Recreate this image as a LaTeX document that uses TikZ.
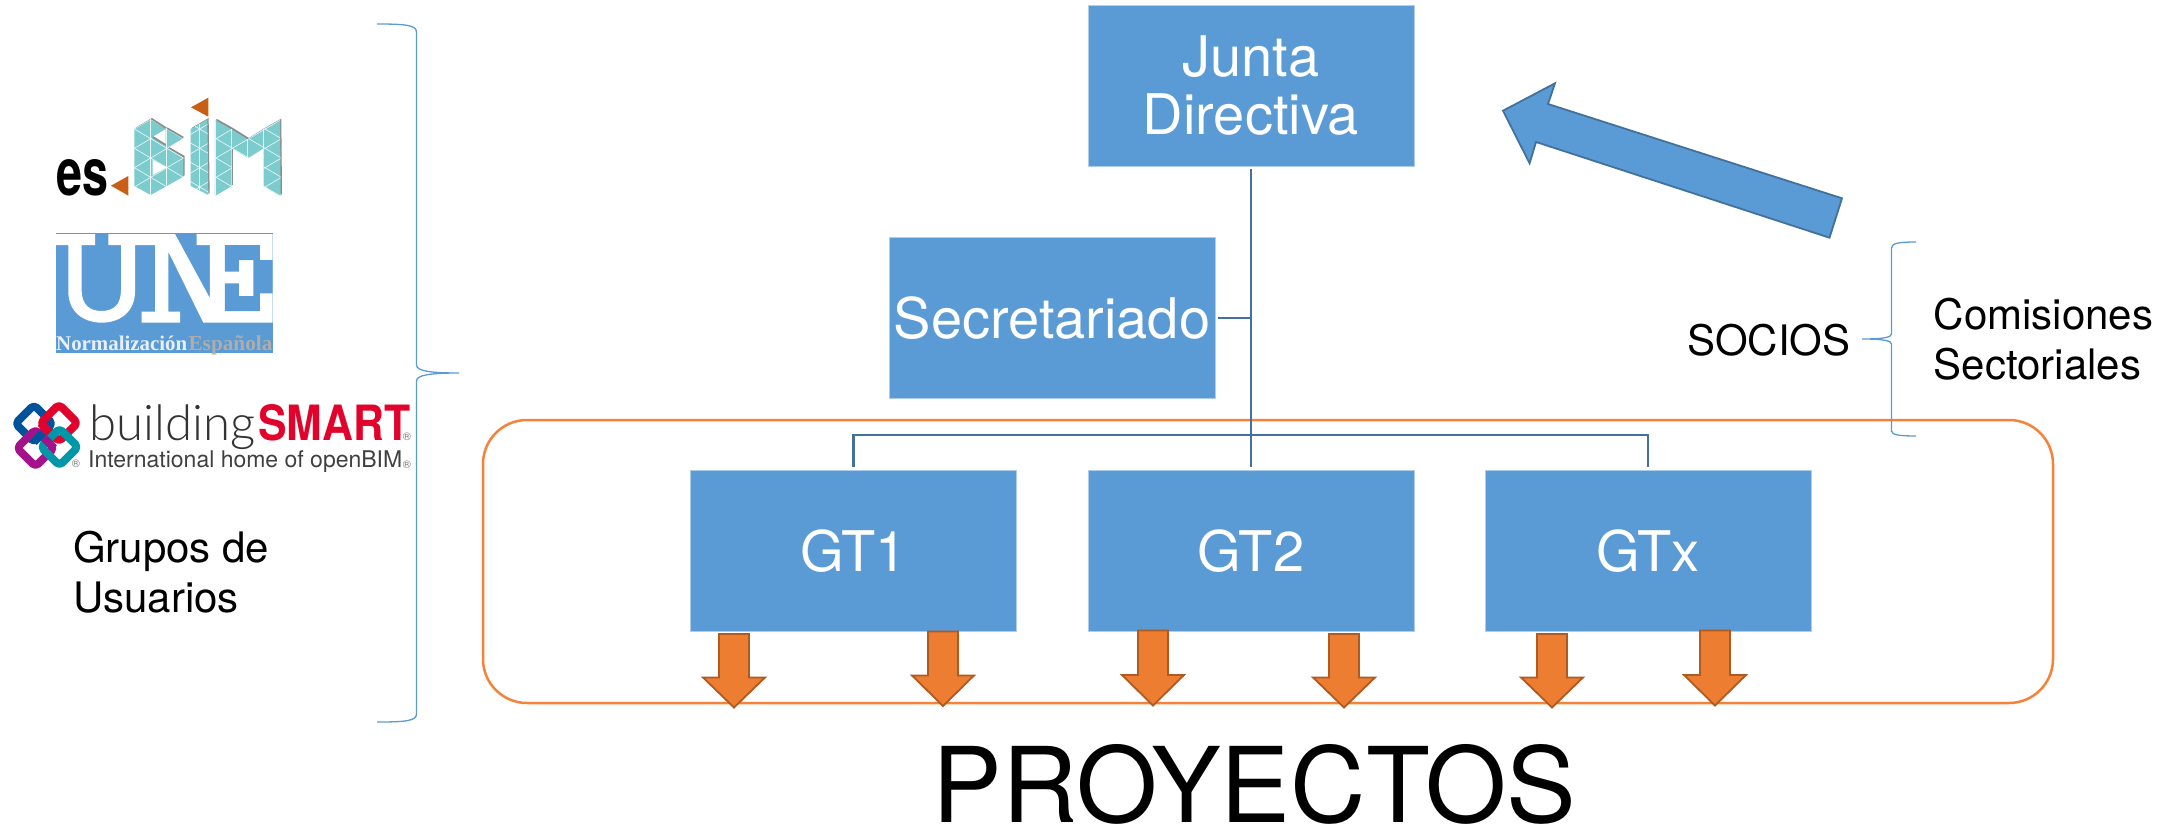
\documentclass[tikz,border=0pt]{standalone}
\usepackage{fontspec}
\setmainfont{TeX Gyre Heros}
\newfontfamily\lato{Lato Light}
\newfontfamily\libserif{Liberation Serif}
\definecolor{boxblue}{HTML}{5B9BD5}
\definecolor{connblue}{HTML}{41719C}
\definecolor{orangefill}{HTML}{ED7D31}
\definecolor{orangeedge}{HTML}{AE5A21}
\definecolor{orangeline}{HTML}{F4823A}
\definecolor{bimteal}{HTML}{7CCBCD}
\definecolor{bimorange}{HTML}{C85F14}
\definecolor{bsblue}{HTML}{00529B}
\definecolor{bsred}{HTML}{E2032C}
\definecolor{bspurple}{HTML}{A3128A}
\definecolor{bsteal}{HTML}{0097A9}
\tikzset{
  orgbox/.style={fill=boxblue,draw=boxblue!50!white,line width=0.8pt,minimum width=326pt,minimum height=161pt,inner sep=0pt,text=white,align=center,font=\fontsize{56}{57.7}\selectfont},
  conn/.style={draw=connblue,line width=2.6pt},
  brace/.style={draw=boxblue,line width=1.3pt},
  lbl/.style={inner sep=0pt,font=\fontsize{42}{50.5}\selectfont,align=left},
  ring/.style={line width=8pt,rounded corners=4pt,line join=round}
}
\newcommand{\orarrow}[4]{% cx, top, shoulder, tip
  \draw[fill=orangefill,draw=orangeedge,line width=1.8pt,line join=miter]
    ({#1-15},#2)--({#1+15},#2)--({#1+15},#3)--({#1+31},#3)--(#1,#4)--({#1-31},#3)--({#1-15},#3)--cycle;}
\newcommand{\bimshapes}{(403,147)--(452,118)--(497,147)--(455,172)--(497,198)--(497,147)--(500,147)--(548,175)--(503,205)--(550,232)--(550,290)--(452,345)--(403,318)--cycle
  (572,147)--(622,118)--(625,345)--(572,318)--cycle
  (645,120)--(695,148)--(743,178)--(790,148)--(840,120)--(842,348)--(790,318)--(790,205)--(745,235)--(695,205)--(695,318)--(645,348)--cycle}
\begin{document}
\begin{tikzpicture}[x=1pt,y=-1pt]
\useasboundingbox (0,0) rectangle (2174,830);

% projects frame
\node[draw=orangeline,line width=2.5pt,rounded corners=44pt,minimum width=1570pt,minimum height=283pt,inner sep=0pt] (proj) at (1268,561.5) {};

% org boxes
\node[orgbox] (junta) at (1251,85.5) {\raisebox{1pt}{Junta}\\[-1pt]Directiva};
\node[orgbox] (sec) at (1052,318) {Secretariado};
\node[orgbox] (gt1) at (853.5,551) {GT1};
\node[orgbox] (gt2) at (1251,551) {GT2};
\node[orgbox] (gtx) at (1648,551) {GTx};

% connectors
\coordinate (bus) at (1251,435);
\draw[conn,shorten <=3pt,shorten >=3pt] (junta.south) -- (gt2.north);
\draw[conn,shorten <=3pt] (sec.east) -- (sec.east -| junta.south);
\draw[conn,shorten <=3pt,shorten >=3pt] (gt1.north) |- (bus) -| (gtx.north);

% orange arrows
\orarrow{734}{634}{677.5}{707.5}
\orarrow{943}{631.5}{675.5}{706}
\orarrow{1153}{630.5}{675}{705.5}
\orarrow{1344}{634}{677.5}{707.5}
\orarrow{1552}{634}{677.5}{707.5}
\orarrow{1715}{630.5}{675}{705.5}

% big blue arrow
\draw[fill=boxblue,draw=connblue,line width=1.8pt,line join=miter]
  (1503,110.7)--(1555,83.3)--(1548,104)--(1842,198.3)--(1829.5,237.7)--(1536,142)--(1529.6,163.3)--cycle;

% braces
\draw[brace] (377,24) .. controls (405,24) and (416.5,25) .. (416.5,32) -- (416.5,365) .. controls (416.5,371) and (430,373) .. (459,373) .. controls (430,373) and (416.5,375) .. (416.5,381) -- (416.5,714) .. controls (416.5,721) and (405,722) .. (377,722);
\draw[brace] (1916,242) .. controls (1900,242) and (1891.5,243) .. (1891.5,248) -- (1891.5,334) .. controls (1891.5,337) and (1885,339) .. (1862,339) .. controls (1885,339) and (1891.5,341) .. (1891.5,344) -- (1891.5,431) .. controls (1891.5,435) and (1900,436) .. (1916,436);

% labels
\node[inner sep=0pt,anchor=base,font=\fontsize{104.5}{105}\selectfont] (proyectos) at (1254.5,822) {PROYECTOS};
\node[lbl,anchor=base west] (socios) at (1687,355) {SOCIOS};
\node[lbl,anchor=west] (comis) at (1933.5,339) {Comisiones\\Sectoriales};
\node[lbl,anchor=west] (grupos) at (73,572) {Grupos de\\Usuarios};

% es.BIM logo
\node[inner sep=0pt,anchor=base west] (es) at (56,195) {\resizebox{52pt}{36pt}{\bfseries es}};
\begin{scope}[shift={(0,80)},x=0.33333pt,y=-0.33333pt]
  \fill[bimorange] (333,317)--(385,288)--(385,347)--cycle;
  \fill[bimorange] (573,82)--(625,53)--(625,110)--cycle;
  \begin{scope}[shift={(4,-4)}]
    \fill[black!45] \bimshapes;
  \end{scope}
  \fill[bimteal] \bimshapes;
  \begin{scope}
    \clip \bimshapes;
    \foreach \k in {-8,...,8}{
      \draw[white!80!bimteal,line width=0.7pt] (300,{86+58*\k}) -- (900,{441+58*\k});
      \draw[white!80!bimteal,line width=0.7pt] (300,{208+58*\k}) -- (900,{-147+58*\k});
    }
    \foreach \xx in {452,500,598,645,695,743,790,842}{
      \draw[white!80!bimteal,line width=0.5pt] (\xx,100) -- (\xx,360);
    }
  \end{scope}
  \fill[white] (458,240)--(458,285)--(500,262)--cycle;
\end{scope}

% UNE logo
\begin{scope}[shift={(40,225)},x=0.33333pt,y=-0.33333pt]
  \fill[boxblue] (48,25) rectangle (698,385);
  \fill[white] (48,27)--(165,27)--(165,60)--(125,60)--(125,195)
     .. controls (125,240) and (150,258) .. (184,258)
     .. controls (220,258) and (243,240) .. (243,195)
     --(243,60)--(205,60)--(205,27)--(405,27)--(510,220)--(510,60)--(470,60)--(470,27)
     --(698,27)--(698,293)--(490,293)--(385,80)--(385,260)--(420,260)--(420,293)--(305,293)--(305,260)--(345,260)--(345,60)--(285,60)--(285,200)
     .. controls (285,260) and (240,293) .. (185,293)
     .. controls (130,293) and (85,260) .. (85,200)
     --(85,60)--(48,60)--cycle;
  \fill[boxblue] (555,60)--(660,60)--(660,105)--(698,105)--(698,205)--(660,205)--(660,258)--(555,258)--(555,175)--(597,175)--(597,213)--(640,213)--(640,105)--(597,105)--(597,140)--(555,140)--cycle;
  \node[inner sep=0pt,anchor=base west,text=white!85!boxblue] (norm) at (48,375) {\resizebox{131pt}{!}{\libserif\bfseries Normalización}};
  \node[inner sep=0pt,anchor=base west,text=black!32] (espa) at (445,375) {\resizebox{84pt}{!}{\libserif\bfseries Española}};
\end{scope}

% buildingSMART logo
\begin{scope}
  \draw[ring,draw=bsblue] (15.5,423.5)--(34,405)--(52.5,423.5)--(34,442)--cycle;
  \draw[ring,draw=bsred] (40.5,423)--(59,404.5)--(77.5,423)--(59,441.5)--cycle;
  \draw[ring,draw=bspurple] (17,448)--(35.5,429.5)--(54,448)--(35.5,466.5)--cycle;
  \draw[ring,draw=bsteal] (41,447)--(59.5,428.5)--(78,447)--(59.5,465.5)--cycle;
  \draw[line width=8pt,draw=bsblue] (34,442)--(43,433);
  \draw[line width=8pt,draw=bsred] (40.5,423)--(50,432.5);
  \draw[line width=8pt,draw=bspurple] (44,438)--(54,448);
\end{scope}
\node[inner sep=0pt,anchor=base west,text=black!80] (bld) at (89,440) {\resizebox{166pt}{!}{\lato building}};
\node[inner sep=0pt,anchor=base west,text=bsred] (smart) at (258,440) {\resizebox{152pt}{36pt}{\bfseries SMART}};
\node[inner sep=0pt,anchor=base west,text=black!75] (intl) at (88,467) {\resizebox{314pt}{!}{International home of openBIM}};
\node[inner sep=0pt,text=black!55,font=\fontsize{11}{11}\selectfont] (r1) at (407,437) {®};
\node[inner sep=0pt,text=black!55,font=\fontsize{11}{11}\selectfont] (r2) at (407,465) {®};
\node[inner sep=0pt,text=black!55,font=\fontsize{11}{11}\selectfont] (r3) at (76,464) {®};
\end{tikzpicture}
\end{document}
